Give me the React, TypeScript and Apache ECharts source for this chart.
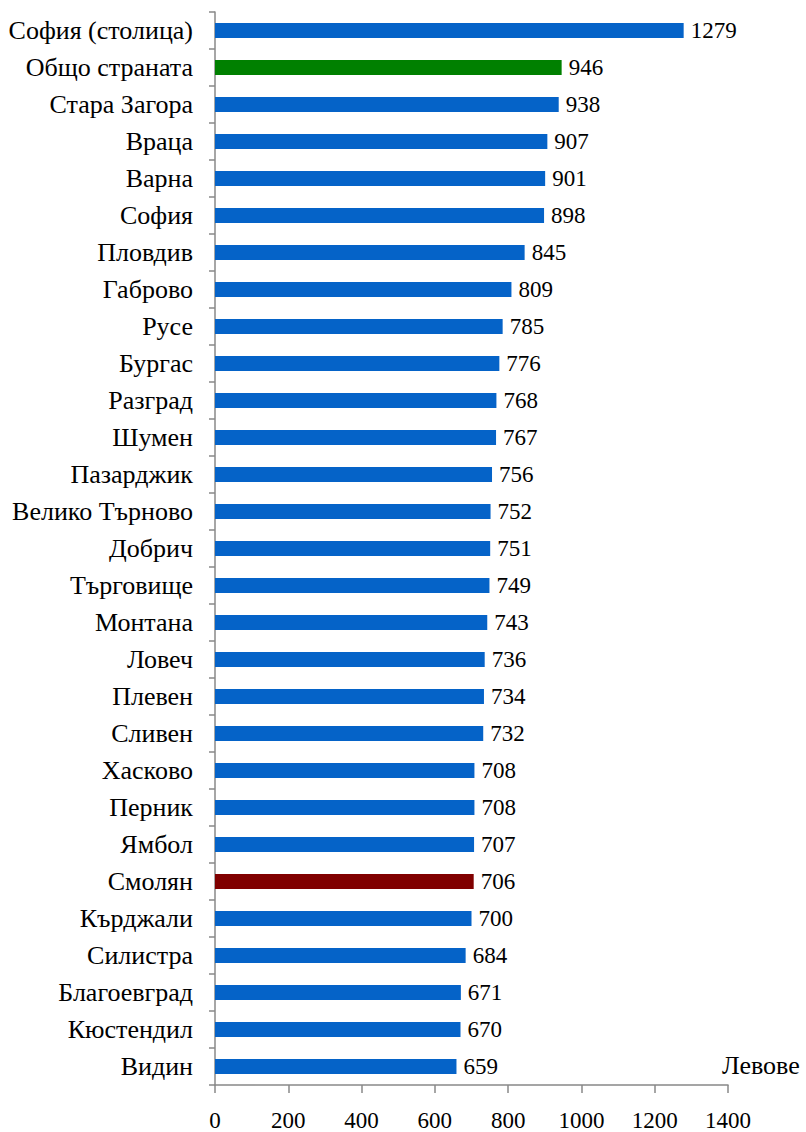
import React, { useEffect, useRef } from "react";
import * as echarts from "echarts";

const categories = [
  "София (столица)", "Общо страната", "Стара Загора", "Враца", "Варна", "София",
  "Пловдив", "Габрово", "Русе", "Бургас", "Разград", "Шумен", "Пазарджик",
  "Велико Търново", "Добрич", "Търговище", "Монтана", "Ловеч", "Плевен",
  "Сливен", "Хасково", "Перник", "Ямбол", "Смолян", "Кърджали", "Силистра",
  "Благоевград", "Кюстендил", "Видин",
];
const values = [
  1279, 946, 938, 907, 901, 898, 845, 809, 785, 776, 768, 767, 756, 752, 751,
  749, 743, 736, 734, 732, 708, 708, 707, 706, 700, 684, 671, 670, 659,
];
const xTicks = { min: 0, max: 1400, interval: 200 };
const unitLabel = "Левове";

const BLUE = "#0563C8";
const GREEN = "#008000";
const DARKRED = "#800000";

export default function App() {
  const ref = useRef<HTMLDivElement>(null);
  useEffect(() => {
    if (!ref.current) return;
    const chart = echarts.init(ref.current, undefined, { renderer: "svg" });
    const font = "'Times New Roman', 'Liberation Serif', serif";
    const fsNum = 23;
    const fsCat = 26;
    chart.setOption({
      animation: false,
      textStyle: { fontFamily: font },
      grid: { left: 215, top: 12, right: 78, bottom: 47, containLabel: false },
      xAxis: {
        type: "value",
        min: xTicks.min,
        max: xTicks.max,
        interval: xTicks.interval,
        splitLine: { show: false },
        axisLine: { show: true, lineStyle: { color: "#888", width: 1.5 } },
        axisTick: { show: true, length: 8, lineStyle: { color: "#888", width: 1.5 } },
        axisLabel: {
          color: "#000", fontSize: fsNum, fontFamily: font, margin: 24,
          formatter: (v: number) => String(v),
        },
      },
      yAxis: {
        type: "category",
        data: categories,
        inverse: true,
        axisLine: { show: true, lineStyle: { color: "#888", width: 1.5 } },
        axisTick: { show: true, length: 6, alignWithLabel: false, lineStyle: { color: "#888", width: 1.5 } },
        axisLabel: { color: "#000", fontSize: fsCat, fontFamily: font, margin: 22, interval: 0 },
      },
      series: [
        {
          type: "bar",
          barWidth: 15,
          data: values.map((v, i) => ({
            value: v,
            itemStyle: {
              color: i === 1 ? GREEN : categories[i] === "Смолян" ? DARKRED : BLUE,
            },
          })),
          label: {
            show: true,
            position: "right",
            distance: 7,
            color: "#000",
            fontSize: fsNum,
            fontFamily: font,
          },
        },
      ],
      graphic: [
        {
          type: "text",
          left: 722,
          top: 1052,
          style: { text: unitLabel, fontSize: fsCat, fontFamily: font, fill: "#000" },
        },
      ],
    });
    return () => chart.dispose();
  }, []);
  return (
    <div
      ref={ref}
      style={{ position: "absolute", left: 0, top: 0, width: 806, height: 1132, background: "#fff" }}
    />
  );
}
